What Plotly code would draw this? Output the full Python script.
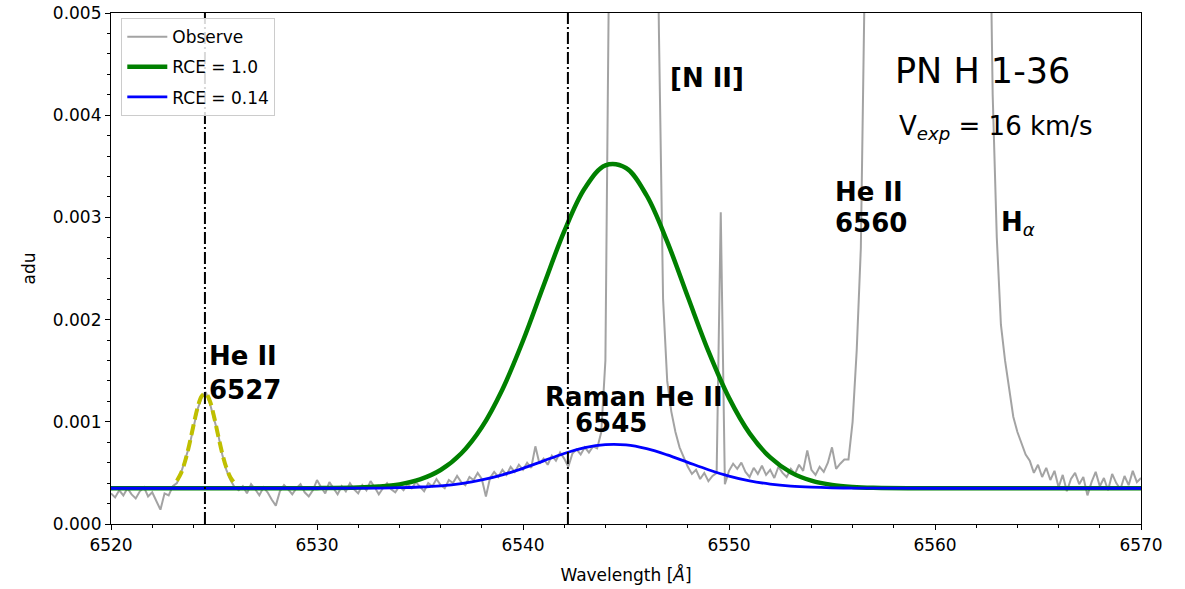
import numpy as np
import plotly.graph_objects as go

# ---------------- data ----------------
# observed spectrum sampled every 0.2 A from 6520.0 to 6570.0 (values in 1e-4 adu)
wl_start, wl_step = 6520.0, 0.2
observe_e4 = [
    # 6520.0 - 6523.0
    3.0, 2.6, 3.3, 2.8, 3.5, 2.9, 2.5, 3.2, 3.6, 2.7, 3.1, 2.3, 1.4, 3.0, 2.8, 3.7,
    # 6523.2 - 6526.0 (He II 6527)
    4.0, 5.0, 6.3, 7.6, 9.4, 11.2, 12.4, 12.9, 11.8, 10.3, 8.8, 6.8, 5.3, 4.3, 3.6,
    # 6526.2 - 6534.0
    3.3, 3.7, 3.0, 3.9, 3.4, 2.8, 3.6, 3.1, 2.4, 1.8, 3.2, 3.8, 3.4, 2.9, 3.5, 3.9,
    3.1, 2.7, 3.3, 4.3, 3.6, 3.0, 4.1, 3.5, 2.9, 3.7, 3.2, 4.0, 3.4, 3.0, 3.8, 3.3,
    4.2, 3.6, 2.9, 3.5, 4.0, 3.4, 3.1, 3.7,
    # 6534.2 - 6543.4 (Raman wing)
    3.3, 3.9, 3.5, 4.1, 3.6, 3.2, 4.0, 3.7, 4.4, 3.8, 3.5, 4.3, 4.0, 4.7, 4.1, 3.8,
    4.6, 4.3, 5.0, 4.4, 2.7, 4.5, 5.1, 4.6, 5.3, 4.8, 5.6, 5.1, 5.8, 5.3, 6.0, 5.5,
    7.6, 5.9, 6.4, 5.8, 6.7, 6.2, 7.0, 6.4, 5.6, 6.9, 7.3, 6.8, 7.5, 7.0, 7.6,
    # 6543.6 - 6547.8 ([N II] 6548)
    7.4, 9.0, 16.0, 60.0, 150.0, 150.0, 150.0, 150.0, 150.0, 150.0, 150.0, 150.0,
    150.0, 150.0, 80.0, 48.0, 22.0, 14.0, 11.0, 9.0, 7.5, 6.5,
    # 6548.0 - 6555.6
    5.6, 4.9, 5.3, 4.4, 5.0, 4.2, 4.7, 5.0, 30.5, 3.9, 5.2, 5.9, 5.4, 6.0, 5.1, 4.6,
    5.5, 4.9, 5.7, 4.8, 5.3, 4.5, 5.6, 5.0, 4.6, 5.4, 4.9, 5.8, 5.2, 7.2, 5.3, 4.8,
    5.6, 5.1, 6.0, 7.5, 5.4, 5.9, 6.3,
    # 6555.8 - 6564.8 (He II 6560 + H alpha)
    6.3, 10.0, 17.0, 27.0, 55.0,
    150.0, 150.0, 150.0, 150.0, 150.0, 150.0, 150.0, 150.0, 150.0, 150.0,
    150.0, 150.0, 150.0, 150.0, 150.0, 150.0, 150.0, 150.0, 150.0, 150.0,
    150.0, 150.0, 150.0, 150.0, 150.0, 150.0, 150.0, 150.0, 150.0,
    70.0, 42.0, 28.0, 19.5, 16.0, 13.0, 10.5, 9.0, 7.8, 6.8, 6.2, 5.0,
    # 6565.0 - 6570.0
    5.8, 4.6, 5.5, 4.3, 5.2, 3.6, 4.8, 3.2, 4.4, 5.0, 3.9, 4.6, 2.8, 4.1, 5.1, 3.7,
    4.5, 3.3, 4.9, 4.0, 3.4, 4.7, 3.8, 5.2, 4.1, 4.5,
]
observe_wl = [round(wl_start + i * wl_step, 1) for i in range(len(observe_e4))]
observe = [v * 1e-4 for v in observe_e4]

# model curves (Raman He II 6545 profile)
model_wl = [6520, 6526, 6530, 6532, 6533, 6534, 6535, 6536, 6537, 6538, 6539, 6540,
            6541, 6542, 6543, 6544, 6545, 6546, 6547, 6548, 6549, 6550, 6551,
            6552, 6553, 6554, 6555, 6556, 6557, 6560, 6565, 6570]
rce_10 = [0.000350, 0.000350, 0.000351, 0.000356, 0.000366, 0.000388, 0.000436,
          0.000528, 0.000690, 0.000947, 0.001317, 0.001793, 0.002334, 0.002863,
          0.003285, 0.003509, 0.003483, 0.003215, 0.002763, 0.002223, 0.001691,
          0.001234, 0.000887, 0.000651, 0.000505, 0.000424, 0.000382, 0.000363,
          0.000355, 0.000350, 0.000350, 0.000350]
rce_014 = [0.000350, 0.000350, 0.000350, 0.000351, 0.000352, 0.000355, 0.000362,
           0.000374, 0.000396, 0.000431, 0.000481, 0.000545, 0.000618, 0.000690,
           0.000747, 0.000777, 0.000774, 0.000737, 0.000676, 0.000603, 0.000531,
           0.000469, 0.000422, 0.000391, 0.000371, 0.000360, 0.000354, 0.000352,
           0.000351, 0.000350, 0.000350, 0.000350]

# He II 6527 gaussian fit
heii_wl = [6523.2, 6523.4, 6523.6, 6523.8, 6524.0, 6524.2, 6524.4, 6524.6,
           6524.8, 6525.0, 6525.2, 6525.4, 6525.6, 6525.8, 6526.0]
heii_fit = [0.000424, 0.000498, 0.000616, 0.000776, 0.000961, 0.001135, 0.001251,
            0.001277, 0.001203, 0.001052, 0.000867, 0.000691, 0.000551, 0.000456,
            0.000400]

# reference wavelengths (dash-dot lines)
ref_lines = [6524.56, 6542.18]

legend_names = ["Observe", "RCE = 1.0", "RCE = 0.14"]

FONT = "DejaVu Sans"

fig = go.Figure()
fig.add_trace(go.Scatter(x=observe_wl, y=observe, mode="lines", name=legend_names[0],
                         legendgroup="a",
                         line=dict(color="rgba(128,128,128,0.72)", width=2)))
fig.add_trace(go.Scatter(x=model_wl, y=rce_10, mode="lines", name=legend_names[1],
                         legendgroup="b",
                         line=dict(color="#008000", width=4.5, shape="spline")))
fig.add_trace(go.Scatter(x=model_wl, y=rce_014, mode="lines", name=legend_names[2],
                         legendgroup="c",
                         line=dict(color="#0000ff", width=2.8, shape="spline")))
fig.add_trace(go.Scatter(x=heii_wl, y=heii_fit, mode="lines", showlegend=False,
                         line=dict(color="#bfbf00", width=4, dash="11px,5px",
                                   shape="spline")))

for v in ref_lines:
    fig.add_shape(type="line", x0=v, x1=v, y0=0, y1=1, xref="x", yref="paper",
                  line=dict(color="black", width=2, dash="12px,3px,2px,3px"))

def label(x, y, text, size=26, bold=True):
    fig.add_annotation(x=x, y=y, xref="x", yref="y", text=("<b>%s</b>" % text) if bold else text,
                       showarrow=False, xanchor="left", yanchor="middle",
                       font=dict(family=FONT, size=size, color="black"))

label(6524.66, 0.001640, "He II")
label(6524.66, 0.001310, "6527")
label(6540.97, 0.001240, "Raman He II")
label(6542.43, 0.000990, "6545")
label(6547.04, 0.004360, "[N II]")
label(6555.05, 0.003250, "He II")
label(6555.05, 0.002950, "6560")
fig.add_annotation(x=6563.11, y=0.002940, xref="x", yref="y",
                   text="<b>H</b><sub><i>α</i></sub>", showarrow=False,
                   xanchor="left", yanchor="middle",
                   font=dict(family=FONT, size=26, color="black"))
label(6557.95, 0.004430, "PN H 1-36", size=35, bold=False)
fig.add_annotation(x=6558.15, y=0.003880, xref="x", yref="y",
                   text="V<sub><i>exp</i></sub> = 16 km/s", showarrow=False,
                   xanchor="left", yanchor="middle",
                   font=dict(family=FONT, size=26, color="black"))

axis_common = dict(showline=True, linecolor="black", linewidth=1.2, mirror=True,
                   showgrid=False, zeroline=False, ticks="outside", ticklen=5,
                   tickwidth=1.2, tickcolor="black", automargin=False,
                   tickfont=dict(family=FONT, size=17, color="black"))

fig.update_xaxes(range=[6520, 6570], dtick=10, tick0=6520,
                 title=dict(text="Wavelength [<i>Å</i>]", standoff=15,
                            font=dict(family=FONT, size=17, color="black")),
                 minor=dict(dtick=2, ticks="outside", ticklen=3, tickcolor="black"),
                 **axis_common)
fig.update_yaxes(range=[0, 0.005], dtick=0.001, tick0=0, tickformat=".3f",
                 title=dict(text="adu", standoff=12,
                            font=dict(family=FONT, size=17, color="black")),
                 minor=dict(dtick=0.0002, ticks="outside", ticklen=3, tickcolor="black"),
                 **axis_common)

fig.update_layout(
    width=1185, height=589, autosize=False,
    margin=dict(l=111, r=44, t=13, b=65),
    plot_bgcolor="white", paper_bgcolor="white",
    font=dict(family=FONT, size=17, color="black"),
    legend=dict(x=0.01, y=0.99, xanchor="left", yanchor="top",
                bgcolor="rgba(255,255,255,0.85)", bordercolor="#cccccc", borderwidth=1,
                font=dict(family=FONT, size=17), traceorder="grouped",
                tracegroupgap=5, itemwidth=40),
    showlegend=True,
)

fig.write_html("out.html")
